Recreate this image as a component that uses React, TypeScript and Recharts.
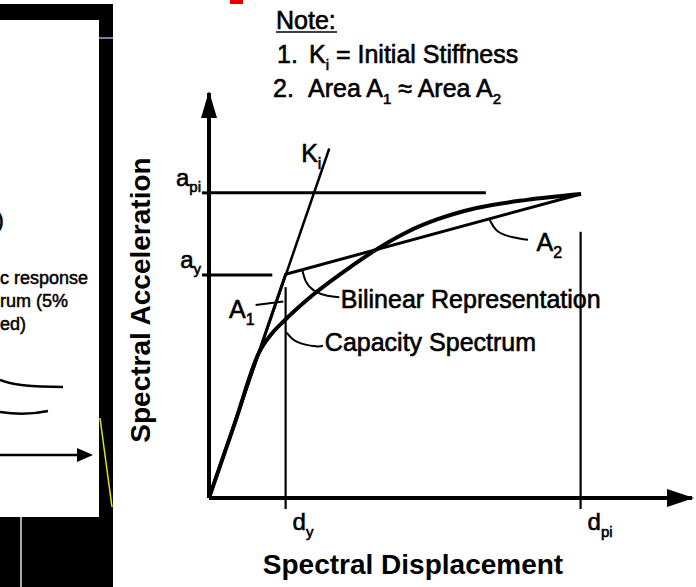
import { ComposedChart, Line, XAxis, YAxis, ReferenceDot } from 'recharts'

const W = 696
const H = 587
const FONT = "'Liberation Sans', Arial, Helvetica, sans-serif"

// axis marks (spectral displacement / acceleration, arbitrary units)
const DY = 2.07
const DPI = 10.04
const AY = 6.03
const API = 8.25
const X_MAX = 13.05
const Y_MAX = 10.95

const X_TICKS = [DY, DPI]
const X_TICK_SUBS = ['y', 'pi']
const Y_TICKS = [AY, API]
const Y_TICK_SUBS = ['y', 'pi']

// capacity spectrum
const capSd = [0, 0.7, 1.36, 1.7, 2.04, 2.82, 3.87, 4.57, 5.37, 6.16, 7.23, 8.58, 10.05]
const capSa = [0, 2.03, 3.95, 4.45, 4.8, 5.5, 6.28, 6.75, 7.2, 7.53, 7.84, 8.06, 8.22]

// bilinear representation
const biSd = [0, DY, 10.05]
const biSa = [0, 6.05, 8.22]

// initial stiffness line
const kiSd = [0, 3.25]
const kiSa = [0, 9.45]

// guide lines
const apiSd = [0, 7.48]
const aySd = [0, 1.71]
const dyTop = 5.7
const dpiTop = 7.2

// leader lines to the labels
const a1LeadSd = [1.26, 2.01]
const a1LeadSa = [5.22, 5.31]
const biLeadSd = [2.52, 2.62, 2.85, 3.2, 3.52]
const biLeadSa = [6.17, 5.85, 5.6, 5.47, 5.43]
const capLeadSd = [2.1, 2.38, 2.88, 3.08]
const capLeadSa = [4.47, 4.22, 4.1, 4.12]
const a2LeadSd = [7.57, 7.8, 8.21, 8.62]
const a2LeadSa = [7.55, 7.21, 7.05, 6.98]

const zip = (xs: number[], ys: number[]) => xs.map((x, i) => ({ x, y: ys[i] }))

const series = [
  { id: 'cap', data: zip(capSd, capSa), w: 4, type: 'monotone' },
  { id: 'bi', data: zip(biSd, biSa), w: 3, type: 'linear' },
  { id: 'ki', data: zip(kiSd, kiSa), w: 2.5, type: 'linear' },
  { id: 'api', data: zip(apiSd, [API, API]), w: 3, type: 'linear' },
  { id: 'ay', data: zip(aySd, [AY, AY]), w: 3, type: 'linear' },
  { id: 'dy', data: zip([DY, DY], [0, dyTop]), w: 2.2, type: 'linear' },
  { id: 'dpi', data: zip([DPI, DPI], [0, dpiTop]), w: 2.2, type: 'linear' },
  { id: 'a1l', data: zip(a1LeadSd, a1LeadSa), w: 2, type: 'linear' },
  { id: 'bil', data: zip(biLeadSd, biLeadSa), w: 2, type: 'natural' },
  { id: 'capl', data: zip(capLeadSd, capLeadSa), w: 2, type: 'natural' },
  { id: 'a2l', data: zip(a2LeadSd, a2LeadSa), w: 2, type: 'natural' },
]

// labels inside the plot: [main, subscript, sd, sa]
const labels: Array<[string, string, number, number]> = [
  ['K', 'i', 2.49, 9.09],
  ['A', '1', 0.54, 4.86],
  ['A', '2', 8.85, 6.67],
  ['Bilinear Representation', '', 3.56, 5.13],
  ['Capacity Spectrum', '', 3.13, 3.98],
]

// scanned text looks heavier than plain regular weight
const INK = { fill: '#000', stroke: '#000', strokeWidth: 0.6 }

const XTick = (p: any) => (
  <text x={p.x + 7} y={p.y + 19} fontSize={24} fontFamily={FONT} {...INK}>
    d<tspan dy={7} fontSize={15}>{X_TICK_SUBS[p.index]}</tspan>
  </text>
)

const YTick = (p: any) => (
  <text x={p.x + 1} y={p.y - 7} fontSize={24} fontFamily={FONT} textAnchor="end" {...INK}>
    a<tspan dy={6} fontSize={15}>{Y_TICK_SUBS[p.index]}</tspan>
  </text>
)

const arrowUp = (p: any) => (
  <polygon points={`${p.cx},${p.cy - 2} ${p.cx - 8},${p.cy + 25} ${p.cx + 8},${p.cy + 25}`} fill="#000" />
)
const arrowRight = (p: any) => (
  <polygon points={`${p.cx + 2},${p.cy} ${p.cx - 25},${p.cy - 9} ${p.cx - 25},${p.cy + 9}`} fill="#000" />
)

const tag = (main: string, sub: string) => (p: any) => (
  <text x={p.cx} y={p.cy} fontSize={25} fontFamily={FONT} {...INK}>
    {main}
    {sub && (
      <tspan dy={7} fontSize={16}>
        {sub}
      </tspan>
    )}
  </text>
)

function Backdrop() {
  return (
    <svg width={W} height={H} style={{ position: 'absolute', left: 0, top: 0 }}>
      {/* cropped slide on the left */}
      <rect x={0} y={4} width={113} height={583} fill="#000" />
      <rect x={0} y={20} width={99} height={497} fill="#fff" />
      <rect x={20} y={517} width={2} height={70} fill="#a8a8a8" />
      <rect x={99} y={37} width={14} height={2} fill="#7a7aa0" />
      <line x1={100} y1={418} x2={112} y2={507} stroke="#e6e600" strokeWidth={1.5} />
      <g fontFamily={FONT} fontSize={18} {...INK} strokeWidth={0.5}>
        <text x={-4} y={228} fontSize={24}>)</text>
        <text x={0} y={284}>c response</text>
        <text x={0} y={307}>rum (5%</text>
        <text x={0} y={330}>ed)</text>
      </g>
      <path d="M0,380 Q15,387 63,387" stroke="#000" strokeWidth={2.5} fill="none" />
      <path d="M0,412 Q25,416 48,411" stroke="#000" strokeWidth={2.5} fill="none" />
      <line x1={0} y1={455} x2={80} y2={455} stroke="#000" strokeWidth={2.5} />
      <polygon points="93,455 77,448 77,462" fill="#000" />
      <rect x={230} y={0} width={13} height={4} fill="#e00000" />

      {/* notes */}
      <g fontFamily={FONT} fontSize={25} {...INK}>
        <text x={276} y={29}>Note:</text>
        <line x1={276} y1={32} x2={337} y2={32} strokeWidth={1.5} />
        <text y={63}>
          <tspan x={277}>1.</tspan>
          <tspan x={309}>K</tspan>
          <tspan dy={7} fontSize={15}>i</tspan>
          <tspan dy={-7}> = Initial Stiffness</tspan>
        </text>
        <text y={97}>
          <tspan x={273}>2.</tspan>
          <tspan x={308}>Area A</tspan>
          <tspan dy={7} fontSize={15}>1</tspan>
          <tspan dy={-7}> ≈ Area A</tspan>
          <tspan dy={7} fontSize={15}>2</tspan>
        </text>
      </g>

      {/* axis titles */}
      <g fontFamily={FONT} fill="#000" fontSize={28} fontWeight="bold">
        <text x={413} y={574} textAnchor="middle">Spectral Displacement</text>
        <text x={150} y={300} textAnchor="middle" transform="rotate(-90 150 300)">
          Spectral Acceleration
        </text>
      </g>
    </svg>
  )
}

export default function App() {
  return (
    <div style={{ position: 'absolute', left: 0, top: 0, width: W, height: H, background: '#fff' }}>
      <Backdrop />
      <div style={{ position: 'absolute', left: 0, top: 0 }}>
        <ComposedChart width={W} height={H} margin={{ top: 93, right: 4, bottom: 59, left: 169 }}>
          <XAxis
            type="number"
            dataKey="x"
            domain={[0, X_MAX]}
            allowDataOverflow
            ticks={X_TICKS}
            tick={XTick}
            height={30}
            tickSize={11}
            axisLine={{ stroke: '#000', strokeWidth: 4 }}
            tickLine={{ stroke: '#000', strokeWidth: 2.2 }}
          />
          <YAxis
            type="number"
            dataKey="y"
            domain={[0, Y_MAX]}
            allowDataOverflow
            ticks={Y_TICKS}
            tick={YTick}
            width={40}
            tickSize={7}
            axisLine={{ stroke: '#000', strokeWidth: 4 }}
            tickLine={{ stroke: '#000', strokeWidth: 3 }}
          />
          {series.map((s) => (
            <Line
              key={s.id}
              data={s.data}
              dataKey="y"
              type={s.type as any}
              stroke="#000"
              strokeWidth={s.w}
              dot={false}
              activeDot={false}
              isAnimationActive={false}
            />
          ))}
          {labels.map(([m, sub, x, y]) => (
            <ReferenceDot key={m + sub} x={x} y={y} ifOverflow="visible" shape={tag(m, sub)} />
          ))}
          <ReferenceDot x={0} y={Y_MAX} ifOverflow="visible" shape={arrowUp} />
          <ReferenceDot x={X_MAX} y={0} ifOverflow="visible" shape={arrowRight} />
        </ComposedChart>
      </div>
    </div>
  )
}
